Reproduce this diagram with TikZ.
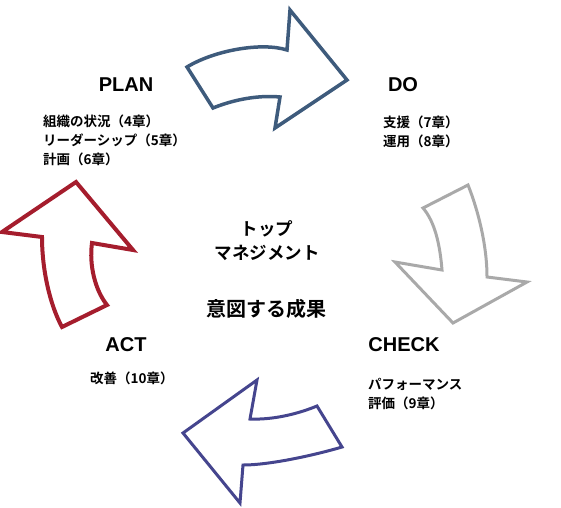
\documentclass[tikz,border=0pt]{standalone}
\usepackage{fontspec}
\setmainfont{Liberation Sans}
\newfontfamily\jpfont{Noto Sans CJK JP}[BoldFont=* Bold]
\usepackage{xcolor}
\definecolor{doblue}{HTML}{3E5B7C}
\definecolor{checkgray}{HTML}{A9A9A9}
\definecolor{actblue}{HTML}{45458E}
\definecolor{planred}{HTML}{A51D2D}
\usetikzlibrary{positioning}

\begin{document}
\begin{tikzpicture}[
    x=1pt, y=-1pt,
    cyclearrow/.style={line width=3.5pt, line join=miter, fill=white},
    phase/.style={font=\fontsize{20}{24}\selectfont\bfseries, inner sep=0pt},
    chapters/.style={font=\jpfont\bfseries\fontsize{13.5}{19}\selectfont, align=left, inner sep=0pt, anchor=north west},
    centre/.style={font=\jpfont\bfseries\fontsize{17.5}{24}\selectfont, align=center, inner sep=0pt}
  ]
  \useasboundingbox (0,0) rectangle (561,507);

  % Plan -> Do
  \draw[cyclearrow, draw=doblue] (187,67) .. controls (215,50) and (262,42) .. (287,50)
    -- (290,10) -- (347,80) -- (275,128) -- (280,97)
    .. controls (260,95) and (235,99) .. (213,108) -- cycle;

  % Do -> Check
  \draw[cyclearrow, draw=checkgray, line width=3pt] (423,208) -- (468,185)
    .. controls (478,210) and (487,245) .. (487,277)
    -- (527,282) -- (453,323) -- (395,262) -- (442,270)
    .. controls (440,245) and (435,222) .. cycle;

  % Check -> Act
  \draw[cyclearrow, draw=actblue, line width=3pt] (342,447)
    .. controls (315,455) and (270,465) .. (243,465)
    -- (240,503) -- (183,433) -- (257,380) -- (250,419)
    .. controls (275,420) and (300,413) .. (317,406) -- cycle;

  % Act -> Plan
  \draw[cyclearrow, draw=planred, line width=4pt] (62,327)
    .. controls (50,305) and (42,270) .. (42,237)
    -- (2,232) -- (76,182) -- (133,250) -- (92,243)
    .. controls (89,265) and (95,290) .. (107,305) -- cycle;

  % stage titles
  \node[phase] (plan) at (126,85) {PLAN};
  \node[phase] (do) at (403,85) {DO};
  \node[phase] (check) at (404,345) {CHECK};
  \node[phase] (act) at (126,345) {ACT};

  % chapters
  \node[chapters] (plannote) at (43,115) {組織の状況（4章）\\リーダーシップ（5章）\\計画（6章）};
  \node[chapters] (donote) at (383,116) {支援（7章）\\運用（8章）};
  \node[chapters] (checknote) at (368,378) {パフォーマンス\\評価（9章）};
  \node[chapters] (actnote) at (90,372) {改善（10章）};

  % centre
  \node[centre] (top) at (267,241) {トップ\\マネジメント};
  \node[centre, font=\jpfont\bfseries\fontsize{20}{24}\selectfont] (aim) at (266,309) {意図する成果};
\end{tikzpicture}
\end{document}
